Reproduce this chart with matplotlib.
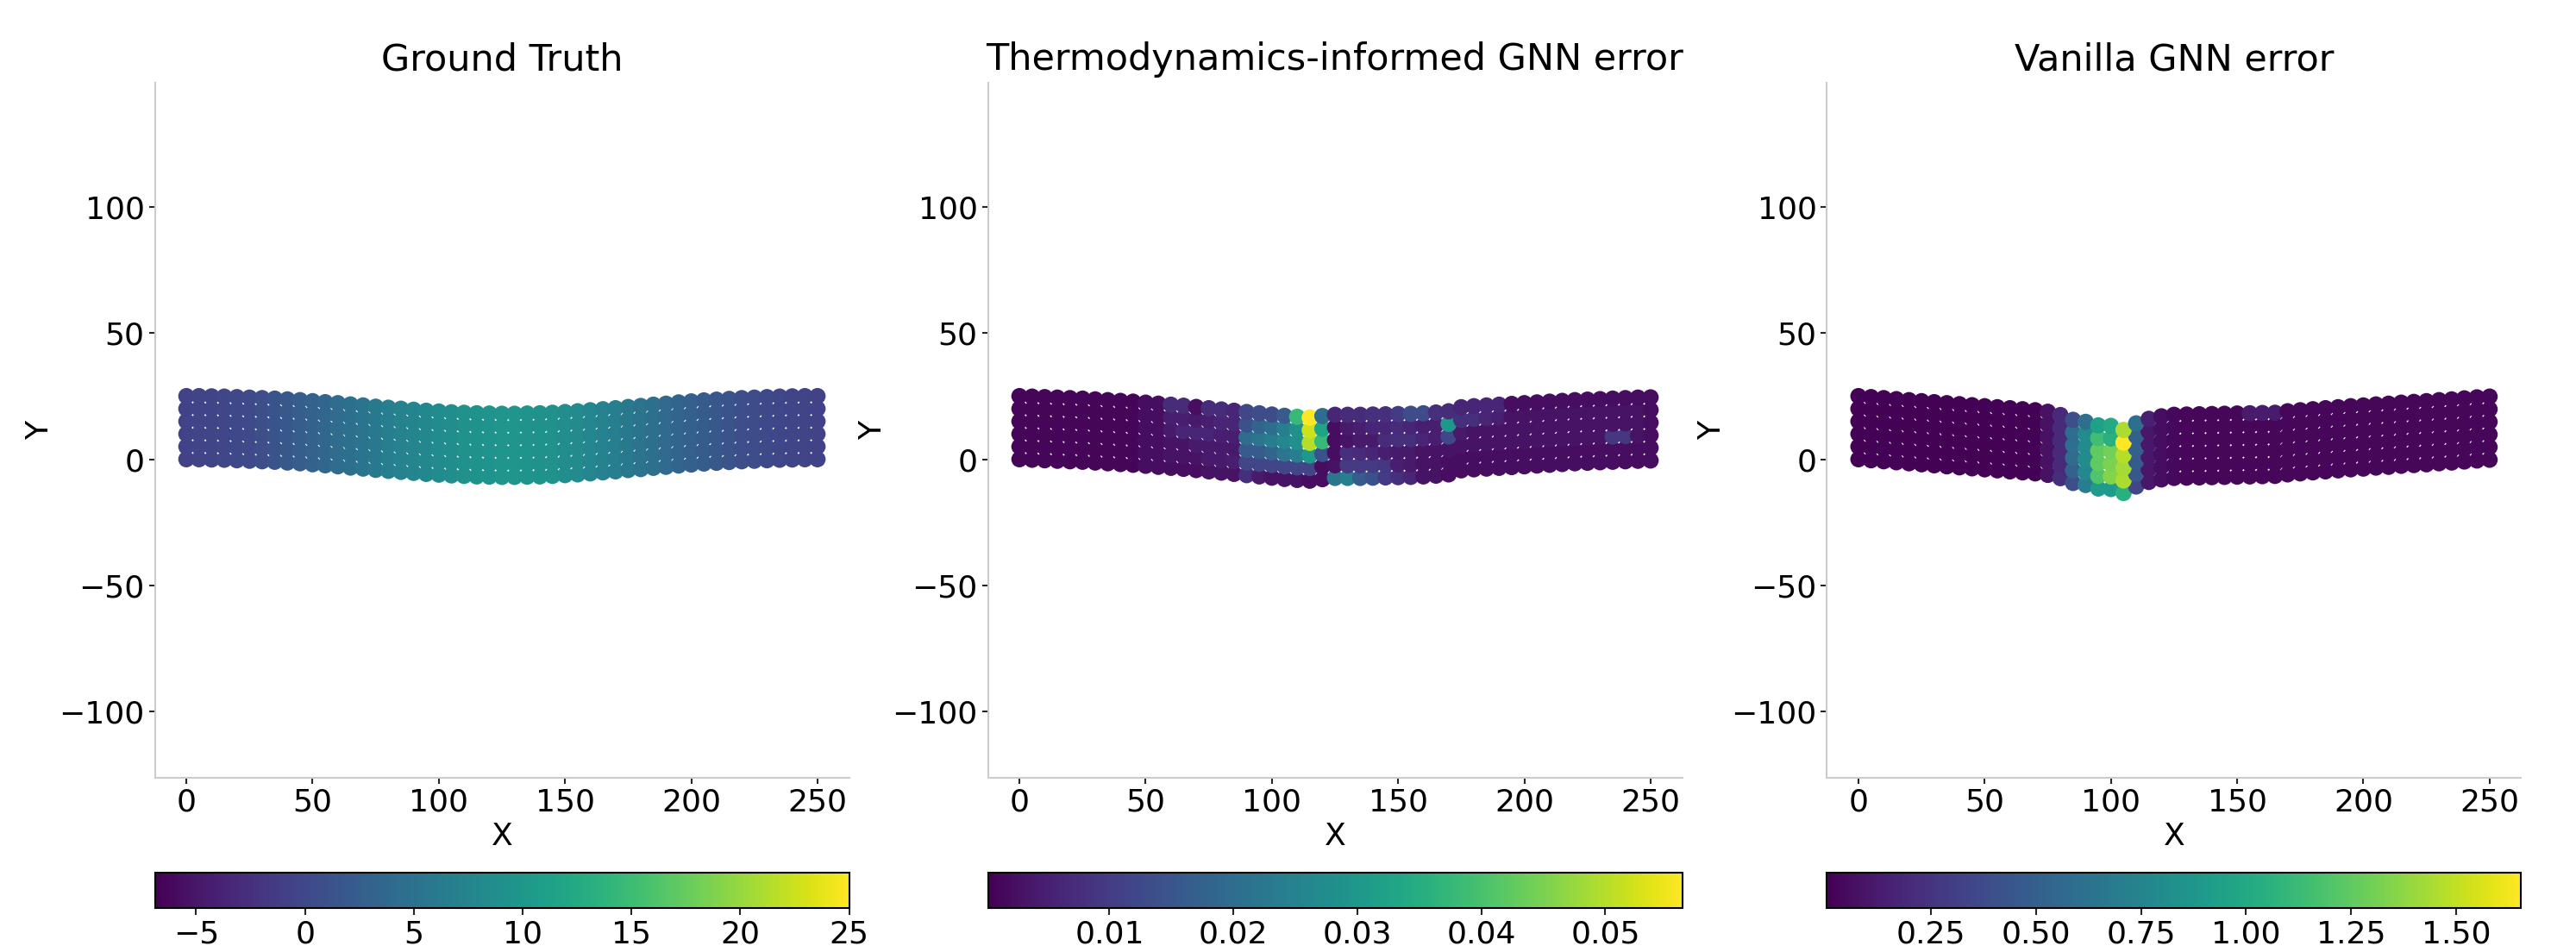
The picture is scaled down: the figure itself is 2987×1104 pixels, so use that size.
import numpy as np
import matplotlib
matplotlib.use("Agg")
import matplotlib.pyplot as plt

# Beam mesh: reference node coordinates (columns along X, rows along Y)
mesh_x = [0, 5, 10, 15, 20, 25, 30, 35, 40, 45,
          50, 55, 60, 65, 70, 75, 80, 85, 90, 95,
          100, 105, 110, 115, 120, 125, 130, 135, 140, 145,
          150, 155, 160, 165, 170, 175, 180, 185, 190, 195,
          200, 205, 210, 215, 220, 225, 230, 235, 240, 245, 250]
mesh_y = [0, 5, 10, 15, 20, 25]

# Vertical deflection of every node column
gt_defl = [0.0, 0.0, -0.1, -0.2, -0.4, -0.6, -0.8, -1.0, -1.3, -1.6,
           -2.0, -2.4, -2.8, -3.3, -3.7, -4.2, -4.6, -5.0, -5.4, -5.8,
           -6.1, -6.4, -6.6, -6.8, -6.9, -7.0, -7.0, -6.9, -6.8, -6.6,
           -6.3, -6.0, -5.6, -5.2, -4.8, -4.3, -3.9, -3.4, -3.0, -2.5,
           -2.1, -1.7, -1.4, -1.1, -0.8, -0.6, -0.4, -0.2, -0.1, 0.0, 0.0]
tig_defl = [0.0, -0.2, -0.4, -0.6, -0.8, -1.0, -1.3, -1.6, -1.9, -2.2,
            -2.6, -3.0, -3.4, -3.8, -4.3, -4.8, -5.3, -5.8, -6.3, -6.8,
            -7.3, -7.8, -8.2, -8.5, -7.9, -7.4, -7.4, -7.4, -7.3, -7.2,
            -7.1, -7.0, -6.8, -6.5, -6.0, -4.4, -4.0, -3.7, -3.4, -3.1,
            -2.8, -2.5, -2.2, -1.9, -1.6, -1.4, -1.2, -1.0, -0.8, -0.6, -0.5]
van_defl = [0.0, -0.4, -0.8, -1.2, -1.6, -2.0, -2.4, -2.8, -3.2, -3.6,
            -4.0, -4.4, -4.8, -5.2, -5.6, -6.2, -7.5, -9.4, -10.2, -11.6,
            -11.8, -13.4, -10.8, -9.0, -8.0, -7.4, -7.3, -7.2, -7.1, -7.0,
            -6.9, -6.8, -6.7, -6.6, -6.0, -5.6, -5.2, -4.8, -4.4, -4.0,
            -3.7, -3.3, -3.0, -2.6, -2.3, -2.0, -1.6, -1.3, -0.9, -0.5, -0.2]

# Ground truth field value, one per node column
gt_value = [-0.6, -0.5, -0.4, -0.2, 0.0, 0.3, 0.7, 1.2, 1.8, 2.4,
            3.0, 3.6, 4.2, 4.8, 5.4, 6.0, 6.6, 7.1, 7.6, 8.0,
            8.4, 8.8, 9.1, 9.4, 9.6, 9.7, 9.7, 9.6, 9.4, 9.1,
            8.7, 8.3, 7.8, 7.2, 6.6, 6.0, 5.3, 4.7, 4.0, 3.4,
            2.8, 2.2, 1.7, 1.2, 0.8, 0.4, 0.1, -0.1, -0.3, -0.5, -0.6]

# Thermodynamics-informed GNN error (x 1e-3), rows from y=0 up to y=25
tig_err_milli = [
    [1, 1, 1, 1, 1, 1, 1, 1, 1, 1, 2, 2, 2, 2, 2, 3, 3, 3, 8, 4,
     3, 3, 3, 2, 2, 22, 24, 16, 14, 10, 8, 6, 3, 3, 2, 2, 2, 2, 2, 2,
     2, 2, 2, 2, 2, 2, 2, 2, 2, 2, 2],
    [1, 1, 1, 1, 1, 1, 1, 1, 1, 1, 2, 2, 3, 3, 3, 4, 4, 5, 12, 12,
     12, 12, 12, 12, 2, 3, 10, 10, 10, 9, 5, 4, 3, 3, 2, 2, 2, 2, 2, 2,
     2, 2, 2, 2, 2, 2, 2, 2, 2, 2, 2],
    [1, 1, 1, 1, 1, 1, 1, 1, 1, 1, 2, 2, 3, 3, 4, 4, 4, 4, 16, 16,
     18, 22, 24, 30, 14, 2, 8, 7, 6, 5, 4, 4, 3, 3, 3, 3, 3, 3, 3, 3,
     3, 3, 3, 3, 3, 3, 3, 9, 9, 3, 2],
    [1, 1, 1, 1, 1, 1, 1, 1, 1, 1, 2, 2, 4, 6, 6, 6, 5, 5, 20, 22,
     24, 26, 28, 50, 38, 2, 3, 4, 4, 7, 8, 8, 6, 5, 12, 4, 3, 3, 3, 3,
     3, 3, 3, 3, 3, 3, 3, 3, 3, 3, 2],
    [1, 1, 1, 1, 1, 1, 1, 1, 1, 1, 2, 2, 5, 5, 4, 5, 6, 6, 14, 18,
     20, 24, 28, 52, 33, 2, 4, 5, 6, 6, 7, 6, 5, 5, 30, 8, 8, 6, 5, 3,
     3, 3, 3, 3, 3, 3, 3, 3, 3, 3, 2],
    [1, 1, 1, 1, 1, 1, 1, 1, 1, 1, 2, 2, 7, 7, 2, 7, 7, 6, 12, 13,
     13, 16, 38, 56, 20, 6, 7, 7, 8, 8, 10, 13, 13, 8, 7, 6, 6, 6, 6, 2,
     2, 2, 2, 2, 2, 2, 2, 2, 2, 2, 2],
]

# Vanilla GNN error, rows from y=0 up to y=25
van_err = [
    [0.01, 0.01, 0.01, 0.01, 0.01, 0.01, 0.01, 0.01, 0.01, 0.01,
     0.01, 0.01, 0.01, 0.01, 0.01, 0.08, 0.22, 0.40, 0.70, 0.90,
     0.90, 1.05, 0.35, 0.10, 0.06, 0.04, 0.03, 0.03, 0.03, 0.03,
     0.03, 0.03, 0.03, 0.03, 0.03, 0.03, 0.03, 0.03, 0.03, 0.03,
     0.03, 0.03, 0.03, 0.03, 0.03, 0.03, 0.03, 0.03, 0.03, 0.03, 0.03],
    [0.01, 0.01, 0.01, 0.01, 0.01, 0.01, 0.01, 0.01, 0.01, 0.01,
     0.01, 0.01, 0.01, 0.01, 0.01, 0.08, 0.20, 0.52, 0.78, 1.20,
     1.35, 1.45, 0.45, 0.10, 0.06, 0.04, 0.03, 0.03, 0.03, 0.03,
     0.03, 0.03, 0.03, 0.03, 0.03, 0.03, 0.03, 0.03, 0.03, 0.03,
     0.03, 0.03, 0.03, 0.03, 0.03, 0.03, 0.03, 0.03, 0.03, 0.03, 0.03],
    [0.01, 0.01, 0.01, 0.01, 0.01, 0.01, 0.01, 0.01, 0.01, 0.01,
     0.01, 0.01, 0.01, 0.01, 0.01, 0.08, 0.20, 0.58, 0.80, 1.25,
     1.33, 1.43, 0.48, 0.10, 0.06, 0.04, 0.03, 0.03, 0.03, 0.03,
     0.03, 0.03, 0.03, 0.03, 0.03, 0.03, 0.03, 0.03, 0.03, 0.03,
     0.03, 0.03, 0.03, 0.03, 0.03, 0.03, 0.03, 0.03, 0.03, 0.03, 0.03],
    [0.01, 0.01, 0.01, 0.01, 0.01, 0.01, 0.01, 0.01, 0.01, 0.01,
     0.01, 0.01, 0.01, 0.01, 0.01, 0.08, 0.20, 0.60, 0.80, 1.25,
     1.30, 1.47, 0.50, 0.10, 0.06, 0.04, 0.03, 0.03, 0.03, 0.03,
     0.03, 0.03, 0.03, 0.03, 0.03, 0.03, 0.03, 0.03, 0.03, 0.03,
     0.03, 0.03, 0.03, 0.03, 0.03, 0.03, 0.03, 0.03, 0.03, 0.03, 0.03],
    [0.01, 0.01, 0.01, 0.01, 0.01, 0.01, 0.01, 0.01, 0.01, 0.01,
     0.01, 0.01, 0.01, 0.01, 0.01, 0.08, 0.20, 0.58, 0.80, 1.15,
     1.05, 1.65, 0.50, 0.10, 0.06, 0.04, 0.03, 0.03, 0.03, 0.03,
     0.03, 0.03, 0.03, 0.03, 0.03, 0.03, 0.03, 0.03, 0.03, 0.03,
     0.03, 0.03, 0.03, 0.03, 0.03, 0.03, 0.03, 0.03, 0.03, 0.03, 0.03],
    [0.01, 0.01, 0.01, 0.01, 0.01, 0.01, 0.01, 0.01, 0.01, 0.01,
     0.01, 0.01, 0.01, 0.01, 0.01, 0.08, 0.20, 0.40, 0.60, 0.95,
     1.00, 1.45, 0.60, 0.15, 0.06, 0.04, 0.03, 0.03, 0.03, 0.03,
     0.03, 0.12, 0.12, 0.12, 0.03, 0.03, 0.03, 0.03, 0.03, 0.03,
     0.03, 0.03, 0.03, 0.03, 0.03, 0.03, 0.03, 0.03, 0.03, 0.03, 0.03],
]

titles = ["Ground Truth", "Thermodynamics-informed GNN error", "Vanilla GNN error"]
color_limits = [(-6.9, 25.0), (0.0002, 0.0562), (0.003, 1.654)]
cbar_ticks = [[-5, 0, 5, 10, 15, 20, 25],
              [0.01, 0.02, 0.03, 0.04, 0.05],
              [0.25, 0.50, 0.75, 1.00, 1.25, 1.50]]


def node_positions(defl):
    xs = np.tile(np.array(mesh_x, dtype=float), (len(mesh_y), 1))
    ys = np.array(mesh_y, dtype=float)[:, None] + np.array(defl)[None, :]
    return xs.ravel(), ys.ravel()


gt_field = np.tile(np.array(gt_value), (len(mesh_y), 1))
panels = [
    (gt_defl, gt_field),
    (tig_defl, np.array(tig_err_milli) * 1e-3),
    (van_defl, np.array(van_err)),
]

fig = plt.figure(figsize=(29.87, 11.04), dpi=100)
lefts = [0.0601, 0.3835, 0.7092]
width = 0.2695

for k, (defl, field) in enumerate(panels):
    ax = fig.add_axes([lefts[k], 0.1830, width, 0.7297])
    xs, ys = node_positions(defl)
    vmin, vmax = color_limits[k]
    sc = ax.scatter(xs, ys, c=field.ravel(), cmap="viridis", vmin=vmin, vmax=vmax,
                    s=185, linewidths=0)
    ax.set_xlim(-12.5, 262.5)
    ax.set_ylim(-126.2, 149.0)
    ax.set_xticks([0, 50, 100, 150, 200, 250])
    ax.set_yticks([-100, -50, 0, 50, 100])
    for side in ["top", "right"]:
        ax.spines[side].set_visible(False)
    for side in ["left", "bottom"]:
        ax.spines[side].set_color("0.8")
        ax.spines[side].set_linewidth(1.5)
    ax.tick_params(colors="0.15", labelcolor="black", labelsize=26, length=5, width=1.5)
    ax.set_xlabel("X", fontsize=26)
    ax.set_ylabel("Y", fontsize=26)
    ax.set_title(titles[k], fontsize=31, pad=11)

    cax = fig.add_axes([lefts[k], 0.0462, width, 0.0371])
    cb = fig.colorbar(sc, cax=cax, orientation="horizontal")
    cb.set_ticks(cbar_ticks[k])
    cb.ax.tick_params(labelsize=26, length=6, width=1.5, colors="0.15", labelcolor="black")
    cb.outline.set_edgecolor("black")
    cb.outline.set_linewidth(1.5)

fig.savefig("out.png", dpi=100)
